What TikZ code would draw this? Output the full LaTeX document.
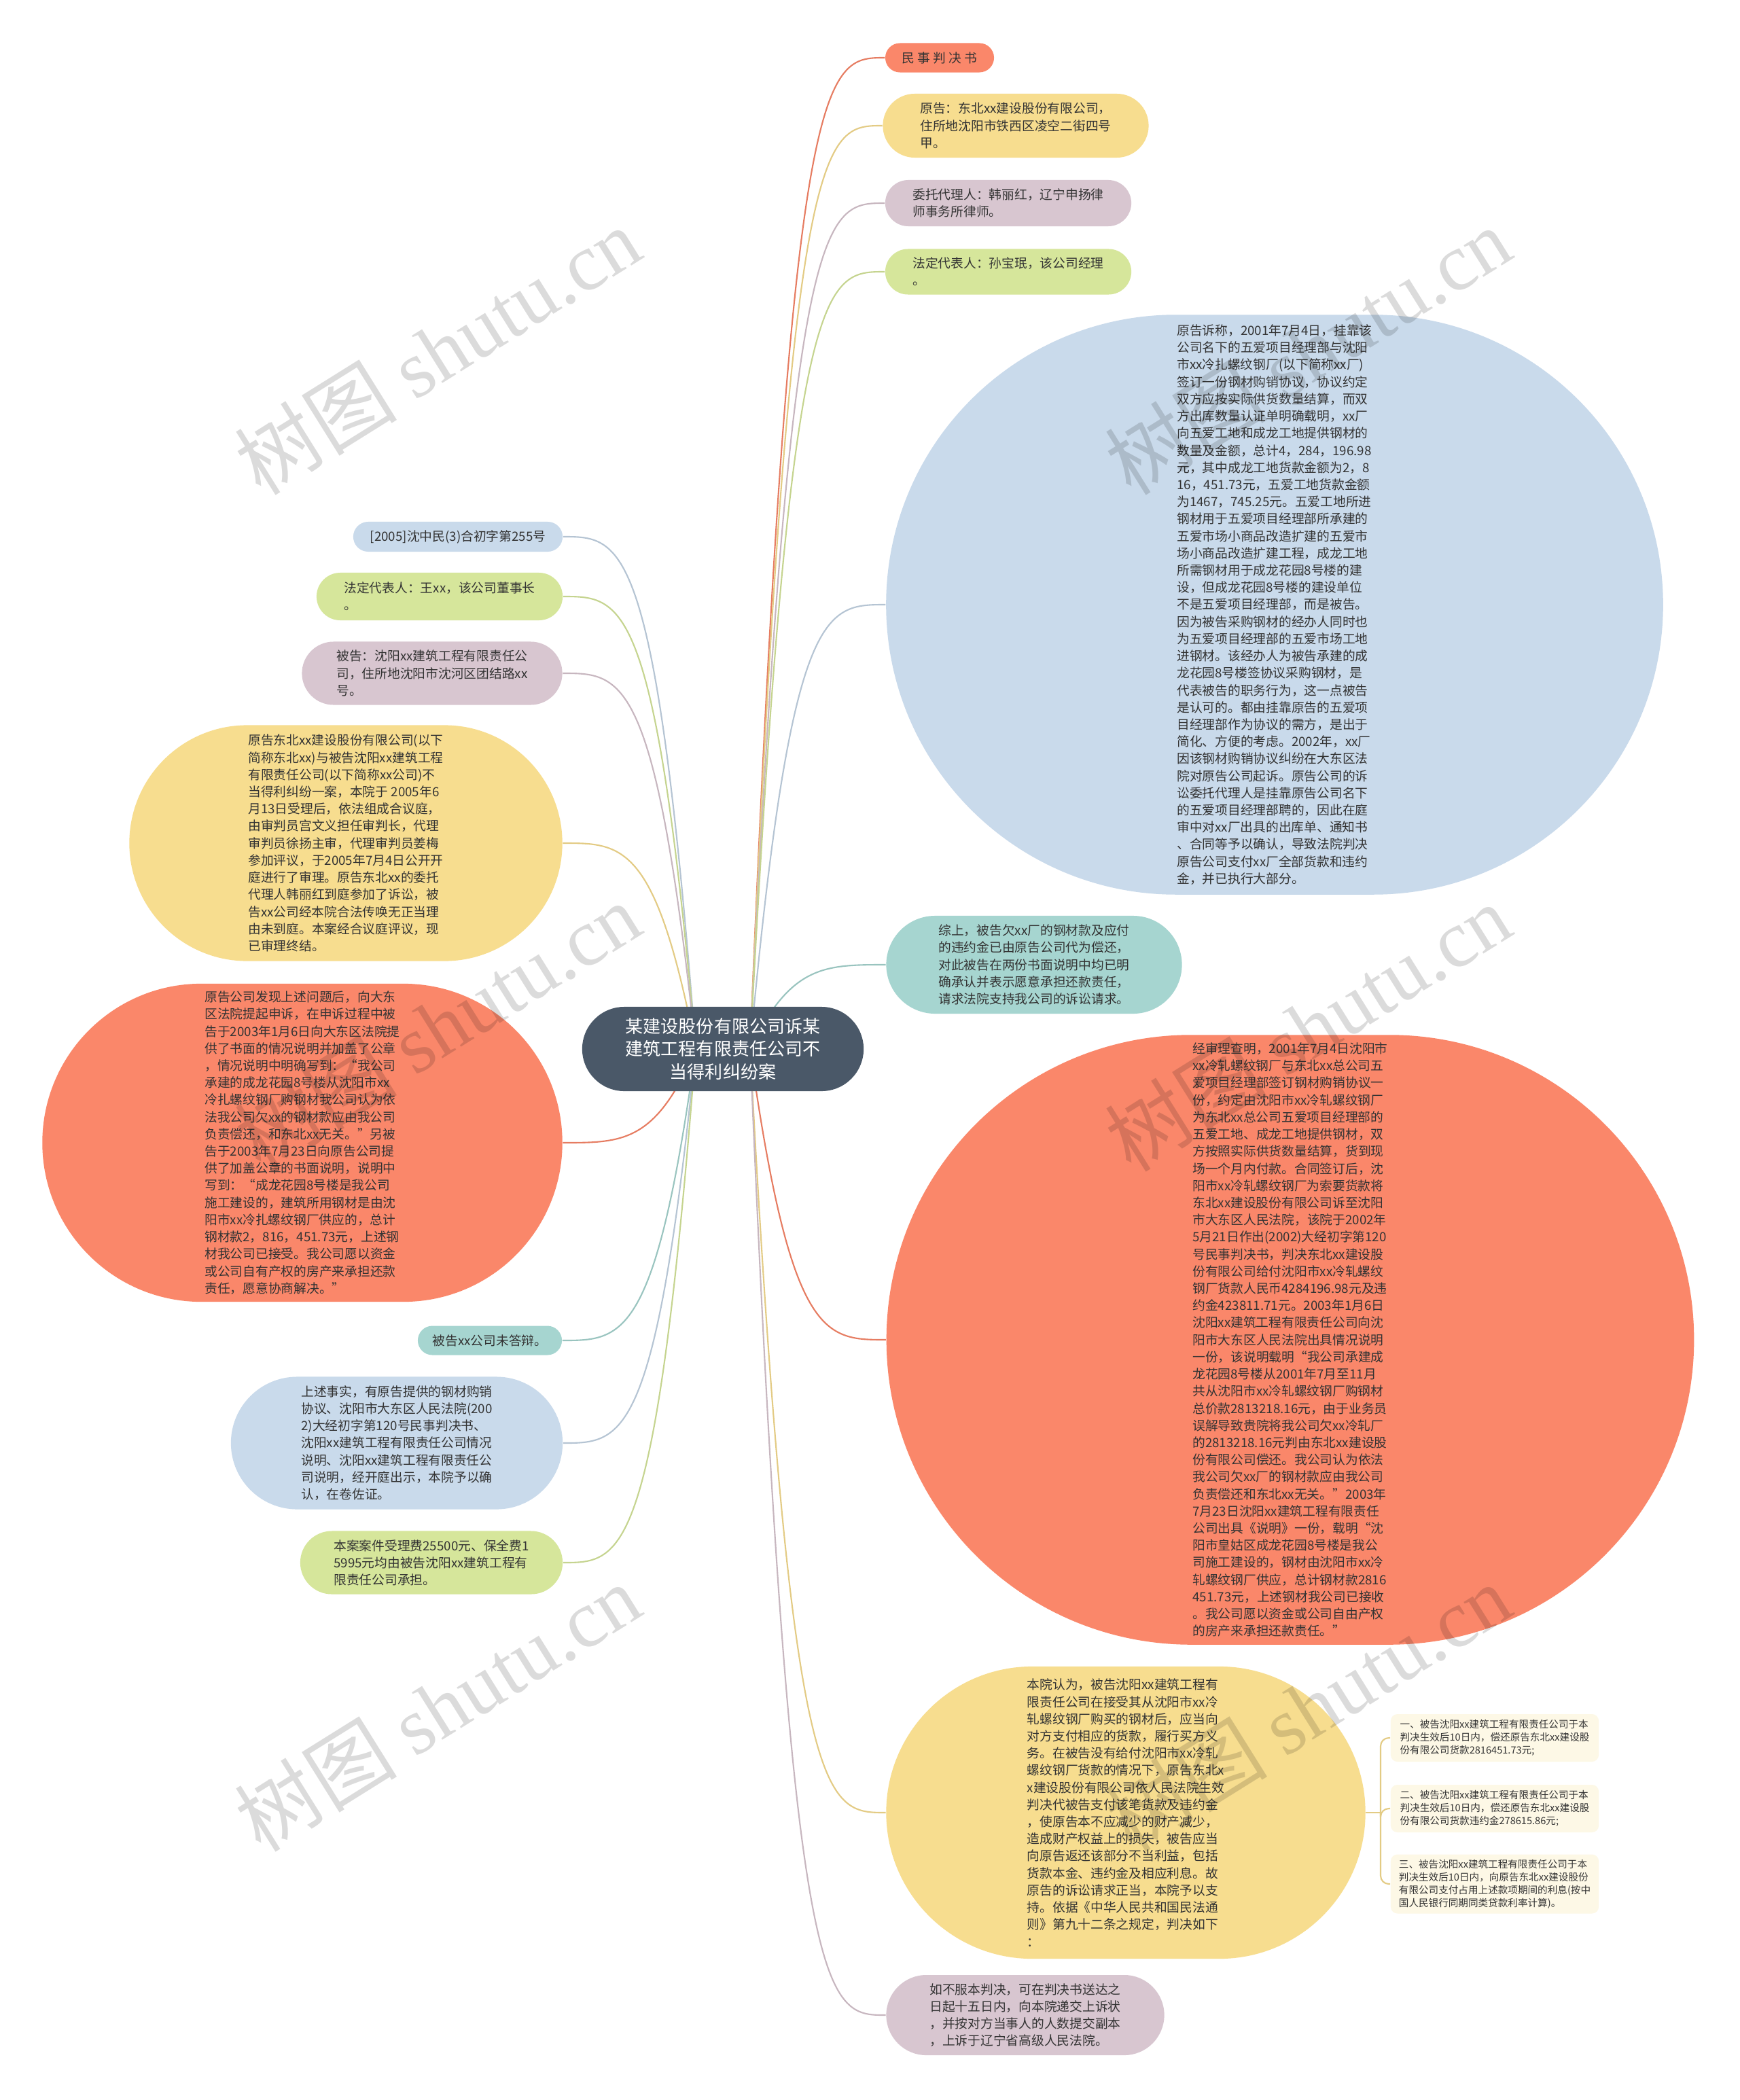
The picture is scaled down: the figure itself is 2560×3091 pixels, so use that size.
\documentclass[tikz,border=0pt]{standalone}
\usepackage{fontspec}
\setmainfont{Noto Sans CJK SC}
\newfontfamily\wmfont{Liberation Serif}
\usepackage{tikz}
\usetikzlibrary{shapes.misc,calc,backgrounds}
\definecolor{maporange}{HTML}{FA876A}
\definecolor{mapyellow}{HTML}{F7DD8F}
\definecolor{mappink}{HTML}{D8C6D0}
\definecolor{mapgreen}{HTML}{D6E69B}
\definecolor{mapblue}{HTML}{C9DAEB}
\definecolor{mapteal}{HTML}{A6D5D0}
\definecolor{mapslate}{HTML}{4A5868}
\definecolor{mapnote}{HTML}{FDF8E6}
\definecolor{maptext}{HTML}{333333}
\colorlet{lineorange}{maporange!92!black}
\colorlet{lineyellow}{mapyellow!92!black}
\colorlet{linepink}{mappink!92!black}
\colorlet{linegreen}{mapgreen!92!black}
\colorlet{lineblue}{mapblue!90!black}
\colorlet{lineteal}{mapteal!92!black}

% curved branch from the hub to a topic
\newcommand\branchto[3]{%
  \draw[branch,#3] let \p1=(#1), \p2=(#2) in
    (\p1) .. controls ({0.7*\x1+0.3*\x2},\y2) and ({0.45*\x1+0.55*\x2},\y2) .. (\p2);}

\begin{document}
\begin{tikzpicture}[x=0.01cm,y=-0.01cm,
  topic/.style={rounded rectangle, inner sep=0pt, align=left, text=maptext,
    font=\fontsize{5.33pt}{7.17pt}\selectfont},
  notebox/.style={rectangle, rounded corners=0.1cm, fill=mapnote, inner sep=0pt,
    align=left, text=maptext, font=\fontsize{4.15pt}{5.45pt}\selectfont},
  branch/.style={line width=0.6pt},
  watermark/.style={text=black, text opacity=0.14, rotate=32,
    font=\fontsize{34pt}{34pt}\selectfont}]
\useasboundingbox (0,0) rectangle (2560,3091);

% central topic
\node[rounded rectangle, fill=mapslate, text=white, align=center, inner sep=0pt,
  minimum width=4.14cm, minimum height=1.24cm,
  font=\fontsize{7.4pt}{9.5pt}\selectfont] (root) at (1064,1544)
  {某建设股份有限公司诉某\\建筑工程有限责任公司不\\当得利纠纷案};
\coordinate (hubR) at (1104,1544);
\coordinate (hubL) at (1024,1544);

% right side
\node[topic, fill=maporange, minimum width=1.60cm, minimum height=0.43cm] (judg) at (1383,85)
  {民 事 判 决 书};
\node[topic, fill=mapyellow, minimum width=3.91cm, minimum height=0.94cm] (plaintiff) at (1495,185)
  {原告：东北xx建设股份有限公司，\\
   住所地沈阳市铁西区凌空二街四号\\
   甲。};
\node[topic, fill=mappink, minimum width=3.62cm, minimum height=0.68cm] (agent) at (1484,299)
  {委托代理人：韩丽红，辽宁申扬律\\
   师事务所律师。};
\node[topic, fill=mapgreen, minimum width=3.62cm, minimum height=0.67cm] (repR) at (1484,400)
  {法定代表人：孙宝珉，该公司经理\\
   。};
\node[topic, fill=mapblue, minimum width=11.43cm, minimum height=8.53cm] (claim) at (1876,890)
  {原告诉称，2001年7月4日，挂靠该\\
   公司名下的五爱项目经理部与沈阳\\
   市xx冷扎螺纹钢厂(以下简称xx厂)\\
   签订一份钢材购销协议，协议约定\\
   双方应按实际供货数量结算，而双\\
   方出库数量认证单明确载明，xx厂\\
   向五爱工地和成龙工地提供钢材的\\
   数量及金额，总计4，284，196.98\\
   元，其中成龙工地货款金额为2，8\\
   16，451.73元，五爱工地货款金额\\
   为1467，745.25元。五爱工地所进\\
   钢材用于五爱项目经理部所承建的\\
   五爱市场小商品改造扩建的五爱市\\
   场小商品改造扩建工程，成龙工地\\
   所需钢材用于成龙花园8号楼的建\\
   设，但成龙花园8号楼的建设单位\\
   不是五爱项目经理部，而是被告。\\
   因为被告采购钢材的经办人同时也\\
   为五爱项目经理部的五爱市场工地\\
   进钢材。该经办人为被告承建的成\\
   龙花园8号楼签协议采购钢材，是\\
   代表被告的职务行为，这一点被告\\
   是认可的。都由挂靠原告的五爱项\\
   目经理部作为协议的需方，是出于\\
   简化、方便的考虑。2002年，xx厂\\
   因该钢材购销协议纠纷在大东区法\\
   院对原告公司起诉。原告公司的诉\\
   讼委托代理人是挂靠原告公司名下\\
   的五爱项目经理部聘的，因此在庭\\
   审中对xx厂出具的出库单、通知书\\
   、合同等予以确认，导致法院判决\\
   原告公司支付xx厂全部货款和违约\\
   金，并已执行大部分。};
\node[topic, fill=mapteal, minimum width=4.35cm, minimum height=1.44cm] (summary) at (1522,1420)
  {综上，被告欠xx厂的钢材款及应付\\
   的违约金已由原告公司代为偿还，\\
   对此被告在两份书面说明中均已明\\
   确承认并表示愿意承担还款责任，\\
   请求法院支持我公司的诉讼请求。};
\node[topic, fill=maporange, minimum width=11.88cm, minimum height=8.97cm] (facts) at (1899,1972)
  {经审理查明，2001年7月4日沈阳市\\
   xx冷轧螺纹钢厂与东北xx总公司五\\
   爱项目经理部签订钢材购销协议一\\
   份，约定由沈阳市xx冷轧螺纹钢厂\\
   为东北xx总公司五爱项目经理部的\\
   五爱工地、成龙工地提供钢材，双\\
   方按照实际供货数量结算，货到现\\
   场一个月内付款。合同签订后，沈\\
   阳市xx冷轧螺纹钢厂为索要货款将\\
   东北xx建设股份有限公司诉至沈阳\\
   市大东区人民法院，该院于2002年\\
   5月21日作出(2002)大经初字第120\\
   号民事判决书，判决东北xx建设股\\
   份有限公司给付沈阳市xx冷轧螺纹\\
   钢厂货款人民币4284196.98元及违\\
   约金423811.71元。2003年1月6日\\
   沈阳xx建筑工程有限责任公司向沈\\
   阳市大东区人民法院出具情况说明\\
   一份，该说明载明“我公司承建成\\
   龙花园8号楼从2001年7月至11月\\
   共从沈阳市xx冷轧螺纹钢厂购钢材\\
   总价款2813218.16元，由于业务员\\
   误解导致贵院将我公司欠xx冷轧厂\\
   的2813218.16元判由东北xx建设股\\
   份有限公司偿还。我公司认为依法\\
   我公司欠xx厂的钢材款应由我公司\\
   负责偿还和东北xx无关。”2003年\\
   7月23日沈阳xx建筑工程有限责任\\
   公司出具《说明》一份，载明“沈\\
   阳市皇姑区成龙花园8号楼是我公\\
   司施工建设的，钢材由沈阳市xx冷\\
   轧螺纹钢厂供应，总计钢材款2816\\
   451.73元，上述钢材我公司已接收\\
   。我公司愿以资金或公司自由产权\\
   的房产来承担还款责任。”};
\node[topic, fill=mapyellow, minimum width=7.05cm, minimum height=4.30cm] (opinion) at (1657,2668)
  {本院认为，被告沈阳xx建筑工程有\\
   限责任公司在接受其从沈阳市xx冷\\
   轧螺纹钢厂购买的钢材后，应当向\\
   对方支付相应的货款，履行买方义\\
   务。在被告没有给付沈阳市xx冷轧\\
   螺纹钢厂货款的情况下，原告东北x\\
   x建设股份有限公司依人民法院生效\\
   判决代被告支付该笔货款及违约金\\
   ，使原告本不应减少的财产减少，\\
   造成财产权益上的损失，被告应当\\
   向原告返还该部分不当利益，包括\\
   货款本金、违约金及相应利息。故\\
   原告的诉讼请求正当，本院予以支\\
   持。依据《中华人民共和国民法通\\
   则》第九十二条之规定，判决如下\\
   ：};
\node[topic, fill=mappink, minimum width=4.09cm, minimum height=1.18cm] (appeal) at (1509,2966)
  {如不服本判决，可在判决书送达之\\
   日起十五日内，向本院递交上诉状\\
   ，并按对方当事人的人数提交副本\\
   ，上诉于辽宁省高级人民法院。};

% judgment items
\node[notebox, minimum width=3.06cm, minimum height=0.70cm] (note1) at (2200,2558)
  {一、被告沈阳xx建筑工程有限责任公司于本\\
   判决生效后10日内，偿还原告东北xx建设股\\
   份有限公司货款2816451.73元;};
\node[notebox, minimum width=3.06cm, minimum height=0.70cm] (note2) at (2200,2662)
  {二、被告沈阳xx建筑工程有限责任公司于本\\
   判决生效后10日内，偿还原告东北xx建设股\\
   份有限公司货款违约金278615.86元;};
\node[notebox, minimum width=3.06cm, minimum height=0.87cm] (note3) at (2200,2773)
  {三、被告沈阳xx建筑工程有限责任公司于本\\
   判决生效后10日内，向原告东北xx建设股份\\
   有限公司支付占用上述款项期间的利息(按中\\
   国人民银行同期同类贷款利率计算)。};
\coordinate (fork) at (2032,2668);

% left side
\node[topic, fill=mapblue, minimum width=3.08cm, minimum height=0.44cm] (caseno) at (674,790)
  {[2005]沈中民(3)合初字第255号};
\node[topic, fill=mapgreen, minimum width=3.62cm, minimum height=0.70cm] (repL) at (647,878)
  {法定代表人：王xx，该公司董事长\\
   。};
\node[topic, fill=mappink, minimum width=3.83cm, minimum height=0.93cm] (defendant) at (636,991)
  {被告：沈阳xx建筑工程有限责任公\\
   司，住所地沈阳市沈河区团结路xx\\
   号。};
\node[topic, fill=mapyellow, minimum width=6.37cm, minimum height=3.47cm] (trial) at (509,1241)
  {原告东北xx建设股份有限公司(以下\\
   简称东北xx)与被告沈阳xx建筑工程\\
   有限责任公司(以下简称xx公司)不\\
   当得利纠纷一案，本院于 2005年6\\
   月13日受理后，依法组成合议庭，\\
   由审判员宫文义担任审判长，代理\\
   审判员徐扬主审，代理审判员姜梅\\
   参加评议，于2005年7月4日公开开\\
   庭进行了审理。原告东北xx的委托\\
   代理人韩丽红到庭参加了诉讼，被\\
   告xx公司经本院合法传唤无正当理\\
   由未到庭。本案经合议庭评议，现\\
   已审理终结。};
\node[topic, fill=maporange, minimum width=7.65cm, minimum height=4.68cm] (complaint) at (445,1682)
  {原告公司发现上述问题后，向大东\\
   区法院提起申诉，在申诉过程中被\\
   告于2003年1月6日向大东区法院提\\
   供了书面的情况说明并加盖了公章\\
   ，情况说明中明确写到：“我公司\\
   承建的成龙花园8号楼从沈阳市xx\\
   冷扎螺纹钢厂购钢材我公司认为依\\
   法我公司欠xx的钢材款应由我公司\\
   负责偿还，和东北xx无关。”另被\\
   告于2003年7月23日向原告公司提\\
   供了加盖公章的书面说明，说明中\\
   写到：“成龙花园8号楼是我公司\\
   施工建设的，建筑所用钢材是由沈\\
   阳市xx冷扎螺纹钢厂供应的，总计\\
   钢材款2，816，451.73元，上述钢\\
   材我公司已接受。我公司愿以资金\\
   或公司自有产权的房产来承担还款\\
   责任，愿意协商解决。”};
\node[topic, fill=mapteal, minimum width=2.12cm, minimum height=0.43cm] (noreply) at (721,1973)
  {被告xx公司未答辩。};
\node[topic, fill=mapblue, minimum width=4.88cm, minimum height=1.95cm] (evidence) at (584,2124)
  {上述事实，有原告提供的钢材购销\\
   协议、沈阳市大东区人民法院(200\\
   2)大经初字第120号民事判决书、\\
   沈阳xx建筑工程有限责任公司情况\\
   说明、沈阳xx建筑工程有限责任公\\
   司说明，经开庭出示，本院予以确\\
   认，在卷佐证。};
\node[topic, fill=mapgreen, minimum width=3.86cm, minimum height=0.93cm] (fee) at (635,2300)
  {本案案件受理费25500元、保全费1\\
   5995元均由被告沈阳xx建筑工程有\\
   限责任公司承担。};

\begin{scope}[on background layer]
  \fill[white] (0,0) rectangle (2560,3091);
  \branchto{hubR}{judg.west}{lineorange}
  \branchto{hubR}{plaintiff.west}{lineyellow}
  \branchto{hubR}{agent.west}{linepink}
  \branchto{hubR}{repR.west}{linegreen}
  \branchto{hubR}{claim.west}{lineblue}
  \branchto{hubR}{summary.west}{lineteal}
  \branchto{hubR}{facts.west}{lineorange}
  \branchto{hubR}{opinion.west}{lineyellow}
  \branchto{hubR}{appeal.west}{linepink}
  \branchto{hubL}{caseno.east}{lineblue}
  \branchto{hubL}{repL.east}{linegreen}
  \branchto{hubL}{defendant.east}{linepink}
  \branchto{hubL}{trial.east}{lineyellow}
  \branchto{hubL}{complaint.east}{lineorange}
  \branchto{hubL}{noreply.east}{lineteal}
  \branchto{hubL}{evidence.east}{lineblue}
  \branchto{hubL}{fee.east}{linegreen}
  \draw[branch, lineyellow] (opinion.east) -- (fork);
  \foreach \n in {note1,note2,note3}
    \draw[branch, lineyellow, rounded corners=0.12cm] (fork) |- (\n.west);
\end{scope}

% watermarks
\node[watermark] (wm1) at (644,516) {树图 {\wmfont shutu.cn}};
\node[watermark] (wm2) at (1925,516) {树图 {\wmfont shutu.cn}};
\node[watermark] (wm3) at (644,1510) {树图 {\wmfont shutu.cn}};
\node[watermark] (wm4) at (1925,1512) {树图 {\wmfont shutu.cn}};
\node[watermark] (wm5) at (644,2513) {树图 {\wmfont shutu.cn}};
\node[watermark] (wm6) at (1925,2513) {树图 {\wmfont shutu.cn}};
\end{tikzpicture}
\end{document}
